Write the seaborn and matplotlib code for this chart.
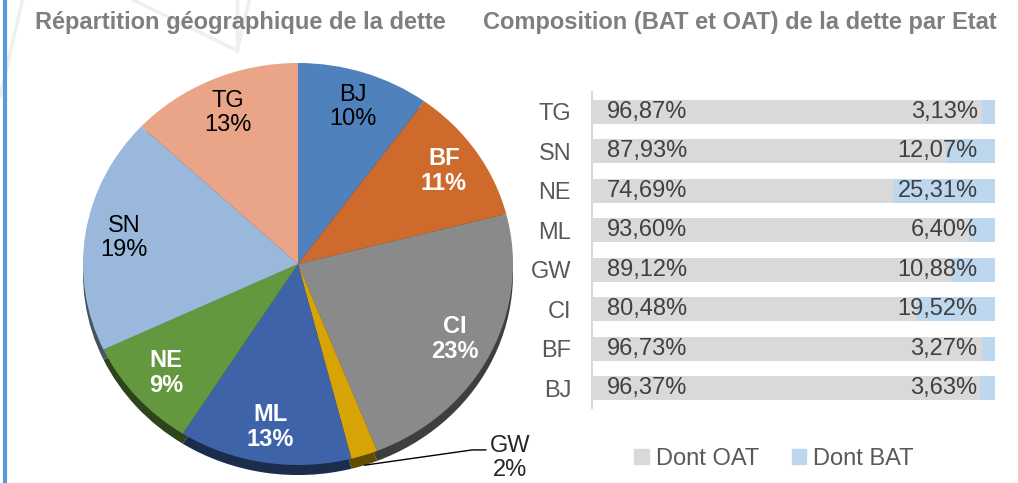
import pandas as pd
import numpy as np
import matplotlib
matplotlib.use("Agg")
import matplotlib.pyplot as plt
import matplotlib.colors as mcolors
from matplotlib.lines import Line2D
from matplotlib.patches import Patch
import seaborn as sns

# -----------------------------
# Data
# -----------------------------
pie_labels = ['BJ', 'BF', 'CI', 'GW', 'ML', 'NE', 'SN', 'TG']
pie_shares = [10, 11, 23, 2, 13, 9, 19, 13]
pie_colors = ['#4f81bd', '#cd6a2c', '#8a8a8a', '#d8a405',
              '#3e63a8', '#64983f', '#9ab8dc', '#eaa488']
pie_white = ['BF', 'CI', 'ML', 'NE']

etats = ['TG', 'SN', 'NE', 'ML', 'GW', 'CI', 'BF', 'BJ']
oat = [96.87, 87.93, 74.69, 93.60, 89.12, 80.48, 96.73, 96.37]
bat = [3.13, 12.07, 25.31, 6.40, 10.88, 19.52, 3.27, 3.63]

oat_color = '#d9d9d9'
bat_color = '#bdd7ee'
txt_color = '#404040'

sns.set_style('white')
plt.rcParams['font.family'] = ['Liberation Sans', 'DejaVu Sans']

fig = plt.figure(figsize=(10.18, 4.83), dpi=100)

# faint background decoration + blue side rule
for xs, ys in [([0.0, 0.022], [0.80, 1.0]), ([0.131, 0.233], [1.0, 0.895]),
               ([0.233, 0.233], [1.0, 0.895]), ([0.245, 0.233], [1.0, 0.895])]:
    fig.add_artist(Line2D(xs, ys, transform=fig.transFigure,
                          color='#efefef', lw=2.5, zorder=0))
fig.add_artist(Line2D([0.005, 0.005], [0, 1], transform=fig.transFigure,
                      color='#5b9bd5', lw=3, zorder=5))

# -----------------------------
# 1. Pie chart
# -----------------------------
ax1 = fig.add_axes([83 / 1018, 18 / 483, 430 / 1018, 402 / 483])
dark = [tuple(np.array(mcolors.to_rgb(c)) * 0.45) for c in pie_colors]
ax1.pie(pie_shares, colors=dark, startangle=90, counterclock=False,
        center=(0, -0.05), radius=1.0, wedgeprops=dict(linewidth=0))
wedges, _, autotexts = ax1.pie(
    pie_shares, colors=pie_colors, startangle=90, counterclock=False,
    radius=1.0, autopct='%1.0f%%', pctdistance=0.82,
    wedgeprops=dict(linewidth=0),
    textprops=dict(fontsize=17, linespacing=1.1))

for w, t, lab, val in zip(wedges, autotexts, pie_labels, pie_shares):
    t.set_text(f"{lab}\n{val}%")
    if lab in pie_white:
        t.set_color('white')
        t.set_fontweight('bold')
    else:
        t.set_color('black')
    if lab == 'GW':
        t.set_visible(False)
        ang = np.deg2rad((w.theta1 + w.theta2) / 2)
        px, py = np.cos(ang), np.sin(ang) - 0.05
        ax1.plot([px, 0.81, 0.875], [py, -0.925, -0.925], color='black',
                 lw=1, clip_on=False)
        ax1.text(0.985, -0.965, f"{lab}\n{val}%", ha='center', va='center',
                 fontsize=17, linespacing=1.1, clip_on=False)

ax1.set_aspect('auto')
ax1.set_xlim(-1, 1)
ax1.set_ylim(-1, 1)
ax1.axis('off')

fig.text(240 / 1018, 1 - 23 / 483, 'Répartition géographique de la dette',
         ha='center', va='center', fontsize=17, fontweight='bold',
         color='#7f7f7f')

# -----------------------------
# 2. Stacked horizontal bars
# -----------------------------
df = pd.DataFrame({'Etat': etats, 'OAT': oat, 'BAT': bat})
df['Total'] = df['OAT'] + df['BAT']

ax2 = fig.add_axes([592 / 1018, 75 / 483, 403 / 1018, 316 / 483])
sns.barplot(data=df, y='Etat', x='Total', color=bat_color, saturation=1,
            width=0.6, orient='h', linewidth=0, ax=ax2)
sns.barplot(data=df, y='Etat', x='OAT', color=oat_color, saturation=1,
            width=0.6, orient='h', linewidth=0, ax=ax2)

for i, (o, b) in enumerate(zip(oat, bat)):
    ax2.text(3.7, i, f"{o:.2f}%".replace('.', ','), ha='left', va='center',
             fontsize=17, color=txt_color)
    ax2.text(95.7, i, f"{b:.2f}%".replace('.', ','), ha='right',
             va='center', fontsize=17, color=txt_color)

ax2.set_xlim(0, 100)
ax2.set_ylim(7.5, -0.5)
ax2.set_xlabel('')
ax2.set_ylabel('')
ax2.set_xticks([])
ax2.tick_params(axis='y', length=0, pad=15, labelsize=17,
                labelcolor='#595959')
for s in ['top', 'right', 'bottom']:
    ax2.spines[s].set_visible(False)
ax2.spines['left'].set_color('#d9d9d9')
ax2.spines['left'].set_linewidth(1.5)

fig.text(740 / 1018, 1 - 23 / 483,
         'Composition (BAT et OAT) de la dette par Etat',
         ha='center', va='center', fontsize=17, fontweight='bold',
         color='#7f7f7f')

handles = [Patch(color=oat_color, label='Dont OAT'),
           Patch(color=bat_color, label='Dont BAT')]
fig.legend(handles=handles, loc='center', ncol=2, frameon=False,
           bbox_to_anchor=(774 / 1018, 1 - 459 / 483), fontsize=17,
           handlelength=0.6, handleheight=0.6, handletextpad=0.3,
           columnspacing=1.4, labelcolor='#595959')

fig.savefig('out.png', dpi=100)
